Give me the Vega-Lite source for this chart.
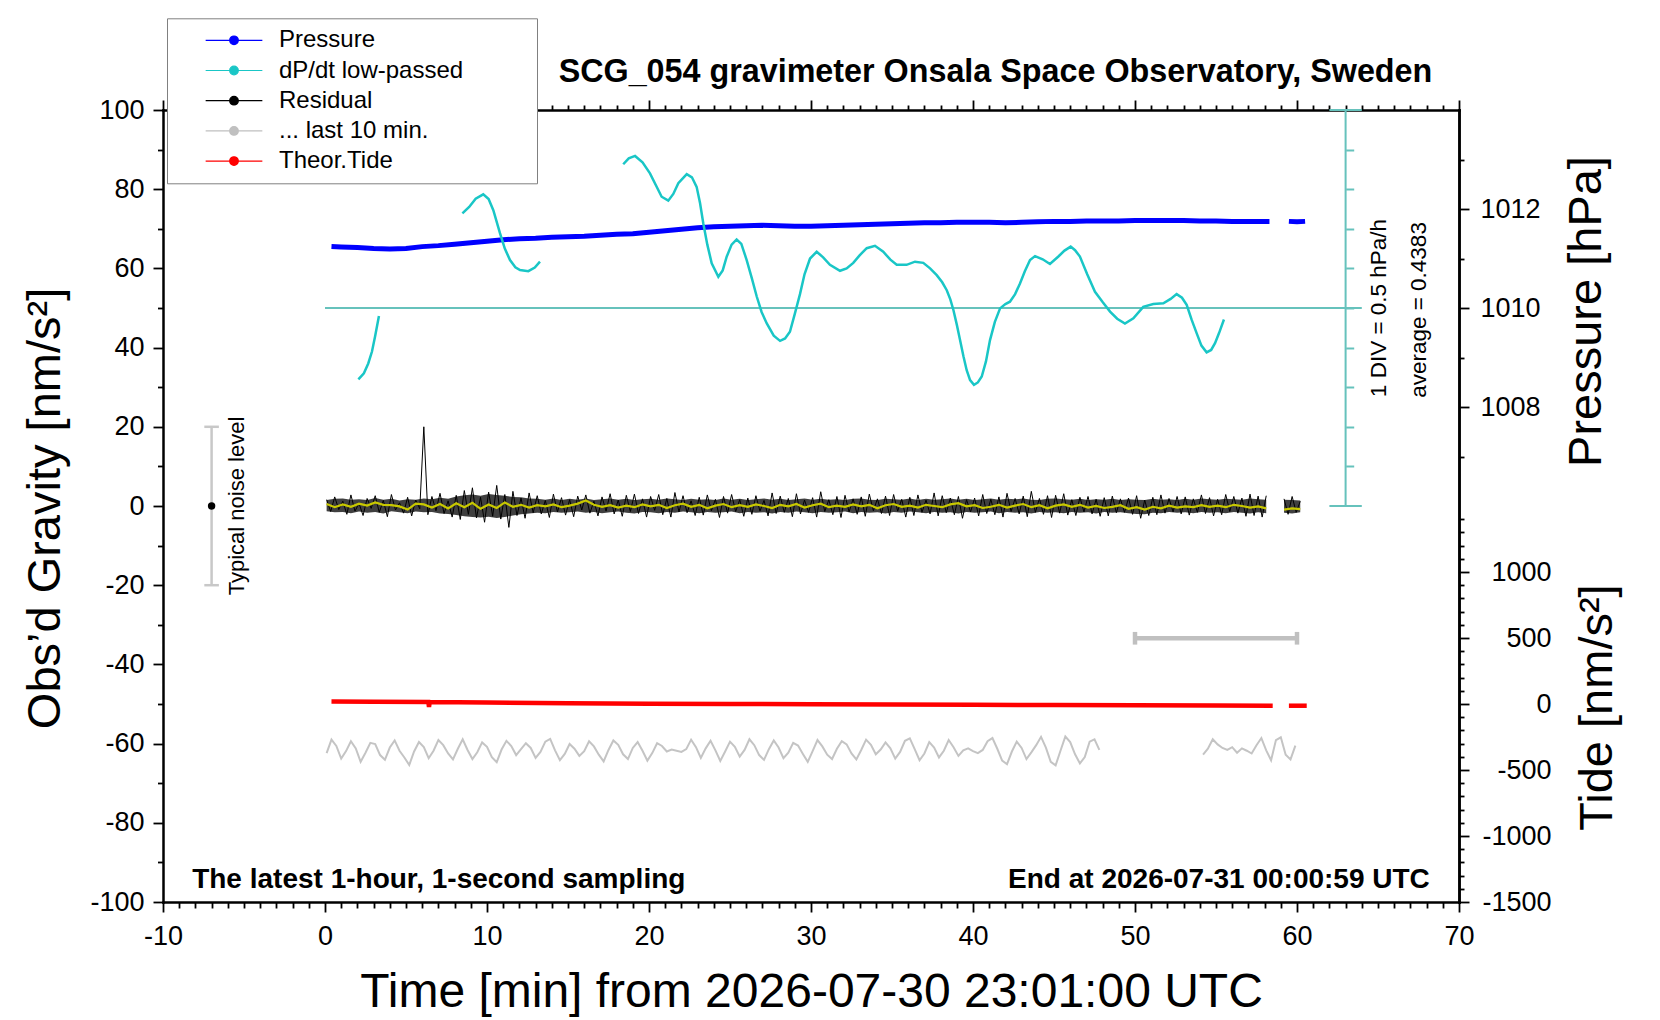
{
  "$schema": "https://vega.github.io/schema/vega-lite/v6.json",
  "width": 1296,
  "height": 792,
  "autosize": {"type": "none"},
  "padding": {"left": 163, "top": 110, "right": 201, "bottom": 118},
  "background": "white",
  "datasets": {
    "noisebar": [
      {"t": -7, "t2": -7, "g": -20, "g2": 20},
      {"t": -7.45, "t2": -6.55, "g": 20, "g2": 20},
      {"t": -7.45, "t2": -6.55, "g": -20, "g2": -20}
    ],
    "lastbar": [
      {"t": 50, "t2": 60, "g": -33.4, "g2": -33.4},
      {"t": 50, "t2": 50, "g": -35, "g2": -31.8},
      {"t": 60, "t2": 60, "g": -35, "g2": -31.8}
    ],
    "cyanframe": [
      {"t": 63, "t2": 63, "v": -2.0617, "v2": 2.9383},
      {"t": 62, "t2": 64, "v": 2.9383, "v2": 2.9383},
      {"t": 62, "t2": 64, "v": -2.0617, "v2": -2.0617},
      {"t": 0, "t2": 64, "v": 0.4383, "v2": 0.4383}
    ],
    "tide": [
      {"t": 0.4, "n": 18, "s": 1}, {"t": 3, "n": 16.5, "s": 1}, {"t": 6.38, "n": 14.5, "s": 1},
      {"t": 6.42, "n": -22, "s": 1}, {"t": 6.46, "n": 14.3, "s": 1}, {"t": 10, "n": 11, "s": 1},
      {"t": 15, "n": 6, "s": 1}, {"t": 20, "n": 2.5, "s": 1}, {"t": 25, "n": 0, "s": 1},
      {"t": 30, "n": -2, "s": 1}, {"t": 35, "n": -4, "s": 1}, {"t": 40, "n": -6, "s": 1},
      {"t": 45, "n": -8, "s": 1}, {"t": 50, "n": -10, "s": 1}, {"t": 55, "n": -12, "s": 1},
      {"t": 58.5, "n": -13, "s": 1},
      {"t": 59.5, "n": -13, "s": 2}, {"t": 60.6, "n": -13, "s": 2}
    ],
    "pressure": [
      {"t": 0.4, "p": 1011.24, "s": 1}, {"t": 1, "p": 1011.23, "s": 1}, {"t": 2, "p": 1011.22, "s": 1},
      {"t": 3, "p": 1011.2, "s": 1}, {"t": 4, "p": 1011.19, "s": 1}, {"t": 5, "p": 1011.2, "s": 1},
      {"t": 6, "p": 1011.24, "s": 1}, {"t": 7, "p": 1011.26, "s": 1}, {"t": 8, "p": 1011.29, "s": 1},
      {"t": 9, "p": 1011.32, "s": 1}, {"t": 10, "p": 1011.35, "s": 1}, {"t": 11, "p": 1011.38, "s": 1},
      {"t": 12, "p": 1011.4, "s": 1}, {"t": 13, "p": 1011.41, "s": 1}, {"t": 14, "p": 1011.43, "s": 1},
      {"t": 15, "p": 1011.44, "s": 1}, {"t": 16, "p": 1011.45, "s": 1}, {"t": 17, "p": 1011.47, "s": 1},
      {"t": 18, "p": 1011.49, "s": 1}, {"t": 19, "p": 1011.5, "s": 1}, {"t": 20, "p": 1011.53, "s": 1},
      {"t": 21, "p": 1011.56, "s": 1}, {"t": 22, "p": 1011.59, "s": 1}, {"t": 23, "p": 1011.62, "s": 1},
      {"t": 24, "p": 1011.64, "s": 1}, {"t": 25, "p": 1011.65, "s": 1}, {"t": 26, "p": 1011.66, "s": 1},
      {"t": 27, "p": 1011.67, "s": 1}, {"t": 28, "p": 1011.66, "s": 1}, {"t": 29, "p": 1011.65, "s": 1},
      {"t": 30, "p": 1011.65, "s": 1}, {"t": 31, "p": 1011.66, "s": 1}, {"t": 32, "p": 1011.67, "s": 1},
      {"t": 33, "p": 1011.68, "s": 1}, {"t": 34, "p": 1011.69, "s": 1}, {"t": 35, "p": 1011.7, "s": 1},
      {"t": 36, "p": 1011.71, "s": 1}, {"t": 37, "p": 1011.72, "s": 1}, {"t": 38, "p": 1011.72, "s": 1},
      {"t": 39, "p": 1011.73, "s": 1}, {"t": 40, "p": 1011.73, "s": 1}, {"t": 41, "p": 1011.73, "s": 1},
      {"t": 42, "p": 1011.72, "s": 1}, {"t": 43, "p": 1011.73, "s": 1}, {"t": 44, "p": 1011.74, "s": 1},
      {"t": 45, "p": 1011.75, "s": 1}, {"t": 46, "p": 1011.75, "s": 1}, {"t": 47, "p": 1011.76, "s": 1},
      {"t": 48, "p": 1011.76, "s": 1}, {"t": 49, "p": 1011.76, "s": 1}, {"t": 50, "p": 1011.77, "s": 1},
      {"t": 51, "p": 1011.77, "s": 1}, {"t": 52, "p": 1011.77, "s": 1}, {"t": 53, "p": 1011.77, "s": 1},
      {"t": 54, "p": 1011.76, "s": 1}, {"t": 55, "p": 1011.76, "s": 1}, {"t": 56, "p": 1011.75, "s": 1},
      {"t": 57, "p": 1011.75, "s": 1}, {"t": 58.3, "p": 1011.75, "s": 1},
      {"t": 59.5, "p": 1011.75, "s": 2}, {"t": 60, "p": 1011.74, "s": 2}, {"t": 60.5, "p": 1011.75, "s": 2}
    ],
    "dpdt": [
      {"t": 2.06, "v": -0.4617, "s": 1}, {"t": 2.4, "v": -0.3867, "s": 1}, {"t": 2.67, "v": -0.2617, "s": 1},
      {"t": 2.9, "v": -0.1117, "s": 1}, {"t": 3.09, "v": 0.0783, "s": 1}, {"t": 3.33, "v": 0.3383, "s": 1},
      {"t": 8.48, "v": 1.6333, "s": 2}, {"t": 8.9, "v": 1.7133, "s": 2}, {"t": 9.3, "v": 1.8183, "s": 2},
      {"t": 9.77, "v": 1.8733, "s": 2}, {"t": 10.1, "v": 1.8133, "s": 2}, {"t": 10.39, "v": 1.6733, "s": 2},
      {"t": 10.8, "v": 1.3833, "s": 2}, {"t": 11.1, "v": 1.1883, "s": 2}, {"t": 11.42, "v": 1.0433, "s": 2},
      {"t": 11.75, "v": 0.9533, "s": 2}, {"t": 12.04, "v": 0.9183, "s": 2}, {"t": 12.55, "v": 0.9033, "s": 2},
      {"t": 12.95, "v": 0.9483, "s": 2}, {"t": 13.27, "v": 1.0233, "s": 2},
      {"t": 18.41, "v": 2.2533, "s": 3}, {"t": 18.75, "v": 2.3283, "s": 3}, {"t": 19.14, "v": 2.3583, "s": 3},
      {"t": 19.6, "v": 2.2783, "s": 3}, {"t": 20.06, "v": 2.1383, "s": 3}, {"t": 20.45, "v": 1.9783, "s": 3},
      {"t": 20.78, "v": 1.8433, "s": 3}, {"t": 21.19, "v": 1.7933, "s": 3}, {"t": 21.5, "v": 1.8783, "s": 3},
      {"t": 21.81, "v": 2.0133, "s": 3}, {"t": 22.33, "v": 2.1283, "s": 3}, {"t": 22.65, "v": 2.0883, "s": 3},
      {"t": 22.94, "v": 1.9683, "s": 3}, {"t": 23.15, "v": 1.7633, "s": 3}, {"t": 23.35, "v": 1.5083, "s": 3},
      {"t": 23.6, "v": 1.2383, "s": 3}, {"t": 23.87, "v": 1.0033, "s": 3}, {"t": 24.28, "v": 0.8333, "s": 3},
      {"t": 24.55, "v": 0.9133, "s": 3}, {"t": 24.8, "v": 1.0883, "s": 3}, {"t": 25.1, "v": 1.2383, "s": 3},
      {"t": 25.41, "v": 1.3033, "s": 3}, {"t": 25.7, "v": 1.2483, "s": 3}, {"t": 26.03, "v": 1.0433, "s": 3},
      {"t": 26.35, "v": 0.8133, "s": 3}, {"t": 26.65, "v": 0.5833, "s": 3}, {"t": 26.95, "v": 0.3883, "s": 3},
      {"t": 27.27, "v": 0.2433, "s": 3}, {"t": 27.7, "v": 0.0883, "s": 3}, {"t": 28.09, "v": 0.0233, "s": 3},
      {"t": 28.4, "v": 0.0533, "s": 3}, {"t": 28.7, "v": 0.1383, "s": 3}, {"t": 29.0, "v": 0.3633, "s": 3},
      {"t": 29.32, "v": 0.6133, "s": 3}, {"t": 29.6, "v": 0.8633, "s": 3}, {"t": 29.94, "v": 1.0633, "s": 3},
      {"t": 30.35, "v": 1.1483, "s": 3}, {"t": 30.75, "v": 1.0783, "s": 3}, {"t": 31.17, "v": 0.9833, "s": 3},
      {"t": 31.79, "v": 0.9083, "s": 3}, {"t": 32.2, "v": 0.9383, "s": 3}, {"t": 32.61, "v": 1.0083, "s": 3},
      {"t": 33.0, "v": 1.1033, "s": 3}, {"t": 33.44, "v": 1.1933, "s": 3}, {"t": 33.95, "v": 1.2233, "s": 3},
      {"t": 34.46, "v": 1.1483, "s": 3}, {"t": 34.9, "v": 1.0483, "s": 3}, {"t": 35.29, "v": 0.9833, "s": 3},
      {"t": 35.9, "v": 0.9833, "s": 3}, {"t": 36.42, "v": 1.0233, "s": 3}, {"t": 36.93, "v": 1.0083, "s": 3},
      {"t": 37.35, "v": 0.9383, "s": 3}, {"t": 37.76, "v": 0.8533, "s": 3}, {"t": 38.1, "v": 0.7633, "s": 3},
      {"t": 38.38, "v": 0.6633, "s": 3}, {"t": 38.6, "v": 0.5483, "s": 3}, {"t": 38.79, "v": 0.4133, "s": 3},
      {"t": 39.0, "v": 0.2283, "s": 3}, {"t": 39.2, "v": 0.0333, "s": 3}, {"t": 39.41, "v": -0.1717, "s": 3},
      {"t": 39.61, "v": -0.3467, "s": 3}, {"t": 39.82, "v": -0.4717, "s": 3}, {"t": 40.06, "v": -0.5317, "s": 3},
      {"t": 40.3, "v": -0.5017, "s": 3}, {"t": 40.54, "v": -0.4267, "s": 3}, {"t": 40.8, "v": -0.2367, "s": 3},
      {"t": 41.05, "v": 0.0333, "s": 3}, {"t": 41.35, "v": 0.2633, "s": 3}, {"t": 41.67, "v": 0.4333, "s": 3},
      {"t": 42.0, "v": 0.4883, "s": 3}, {"t": 42.28, "v": 0.5183, "s": 3}, {"t": 42.6, "v": 0.6133, "s": 3},
      {"t": 42.9, "v": 0.7483, "s": 3}, {"t": 43.2, "v": 0.9033, "s": 3}, {"t": 43.52, "v": 1.0433, "s": 3},
      {"t": 43.83, "v": 1.0933, "s": 3}, {"t": 44.3, "v": 1.0533, "s": 3}, {"t": 44.75, "v": 0.9933, "s": 3},
      {"t": 45.27, "v": 1.0883, "s": 3}, {"t": 45.65, "v": 1.1633, "s": 3}, {"t": 46.03, "v": 1.2133, "s": 3},
      {"t": 46.3, "v": 1.1683, "s": 3}, {"t": 46.6, "v": 1.0883, "s": 3}, {"t": 47.05, "v": 0.8633, "s": 3},
      {"t": 47.53, "v": 0.6433, "s": 3}, {"t": 48.0, "v": 0.5133, "s": 3}, {"t": 48.46, "v": 0.3933, "s": 3},
      {"t": 48.9, "v": 0.3033, "s": 3}, {"t": 49.38, "v": 0.2433, "s": 3}, {"t": 49.9, "v": 0.3083, "s": 3},
      {"t": 50.51, "v": 0.4533, "s": 3}, {"t": 51.13, "v": 0.4883, "s": 3}, {"t": 51.75, "v": 0.4983, "s": 3},
      {"t": 52.2, "v": 0.5533, "s": 3}, {"t": 52.57, "v": 0.6133, "s": 3}, {"t": 52.9, "v": 0.5683, "s": 3},
      {"t": 53.19, "v": 0.4783, "s": 3}, {"t": 53.5, "v": 0.2883, "s": 3}, {"t": 53.81, "v": 0.1183, "s": 3},
      {"t": 54.1, "v": -0.0367, "s": 3}, {"t": 54.42, "v": -0.1217, "s": 3}, {"t": 54.7, "v": -0.0917, "s": 3},
      {"t": 54.94, "v": -0.0067, "s": 3}, {"t": 55.2, "v": 0.1283, "s": 3}, {"t": 55.49, "v": 0.2933, "s": 3}
    ],
    "envelope": [
      {"t":0.1,"lo":-1.3,"hi":1.5,"s":1},{"t":0.6,"lo":-1.6,"hi":1.8,"s":1},{"t":1.1,"lo":-1.5,"hi":1.9,"s":1},{"t":1.6,"lo":-1.8,"hi":1.6,"s":1},
      {"t":2.1,"lo":-1.4,"hi":1.7,"s":1},{"t":2.6,"lo":-1.7,"hi":1.5,"s":1},{"t":3.1,"lo":-1.5,"hi":2.0,"s":1},{"t":3.6,"lo":-1.9,"hi":1.6,"s":1},
      {"t":4.1,"lo":-1.3,"hi":1.8,"s":1},{"t":4.6,"lo":-1.6,"hi":1.4,"s":1},{"t":5.1,"lo":-1.8,"hi":1.7,"s":1},{"t":5.6,"lo":-1.4,"hi":1.6,"s":1},
      {"t":6.1,"lo":-1.6,"hi":1.9,"s":1},{"t":6.6,"lo":-1.5,"hi":1.7,"s":1},{"t":7.1,"lo":-1.9,"hi":2.1,"s":1},{"t":7.6,"lo":-2.0,"hi":1.8,"s":1},
      {"t":8.1,"lo":-2.3,"hi":2.4,"s":1},{"t":8.6,"lo":-2.6,"hi":2.7,"s":1},{"t":9.1,"lo":-2.8,"hi":2.9,"s":1},{"t":9.6,"lo":-2.9,"hi":2.6,"s":1},
      {"t":10.1,"lo":-2.7,"hi":3.0,"s":1},{"t":10.6,"lo":-3.0,"hi":2.8,"s":1},{"t":11.1,"lo":-2.8,"hi":2.6,"s":1},{"t":11.6,"lo":-2.4,"hi":2.3,"s":1},
      {"t":12.1,"lo":-2.1,"hi":2.2,"s":1},{"t":12.6,"lo":-1.9,"hi":1.9,"s":1},{"t":13.1,"lo":-1.7,"hi":1.8,"s":1},{"t":13.6,"lo":-1.8,"hi":1.6,"s":1},
      {"t":14.1,"lo":-1.5,"hi":1.9,"s":1},{"t":14.6,"lo":-1.7,"hi":1.5,"s":1},{"t":15.1,"lo":-1.6,"hi":1.8,"s":1},{"t":15.6,"lo":-1.4,"hi":1.6,"s":1},
      {"t":16.1,"lo":-1.7,"hi":1.9,"s":1},{"t":16.6,"lo":-1.5,"hi":1.5,"s":1},{"t":17.1,"lo":-1.8,"hi":1.7,"s":1},{"t":17.6,"lo":-1.6,"hi":1.9,"s":1},
      {"t":18.1,"lo":-1.4,"hi":1.6,"s":1},{"t":18.6,"lo":-1.7,"hi":1.8,"s":1},{"t":19.1,"lo":-1.9,"hi":1.5,"s":1},{"t":19.6,"lo":-1.5,"hi":1.7,"s":1},
      {"t":20.1,"lo":-1.6,"hi":1.8,"s":1},{"t":20.6,"lo":-1.8,"hi":1.6,"s":1},{"t":21.1,"lo":-1.5,"hi":1.9,"s":1},{"t":21.6,"lo":-1.7,"hi":1.7,"s":1},
      {"t":22.1,"lo":-1.4,"hi":1.5,"s":1},{"t":22.6,"lo":-1.6,"hi":1.8,"s":1},{"t":23.1,"lo":-1.8,"hi":1.6,"s":1},{"t":23.6,"lo":-1.5,"hi":1.7,"s":1},
      {"t":24.1,"lo":-1.7,"hi":1.5,"s":1},{"t":24.6,"lo":-1.6,"hi":1.9,"s":1},{"t":25.1,"lo":-1.4,"hi":1.6,"s":1},{"t":25.6,"lo":-1.8,"hi":1.8,"s":1},
      {"t":26.1,"lo":-1.5,"hi":1.5,"s":1},{"t":26.6,"lo":-1.7,"hi":1.7,"s":1},{"t":27.1,"lo":-1.6,"hi":1.9,"s":1},{"t":27.6,"lo":-1.9,"hi":1.6,"s":1},
      {"t":28.1,"lo":-1.5,"hi":1.8,"s":1},{"t":28.6,"lo":-1.7,"hi":1.5,"s":1},{"t":29.1,"lo":-1.4,"hi":1.7,"s":1},{"t":29.6,"lo":-1.6,"hi":1.9,"s":1},
      {"t":30.1,"lo":-1.8,"hi":1.6,"s":1},{"t":30.6,"lo":-1.5,"hi":1.8,"s":1},{"t":31.1,"lo":-1.7,"hi":1.6,"s":1},{"t":31.6,"lo":-1.6,"hi":1.7,"s":1},
      {"t":32.1,"lo":-1.4,"hi":1.5,"s":1},{"t":32.6,"lo":-1.8,"hi":1.8,"s":1},{"t":33.1,"lo":-1.5,"hi":1.9,"s":1},{"t":33.6,"lo":-1.7,"hi":1.6,"s":1},
      {"t":34.1,"lo":-1.6,"hi":1.5,"s":1},{"t":34.6,"lo":-1.9,"hi":1.8,"s":1},{"t":35.1,"lo":-1.5,"hi":1.7,"s":1},{"t":35.6,"lo":-1.7,"hi":1.6,"s":1},
      {"t":36.1,"lo":-1.4,"hi":1.9,"s":1},{"t":36.6,"lo":-1.6,"hi":1.5,"s":1},{"t":37.1,"lo":-1.8,"hi":1.8,"s":1},{"t":37.6,"lo":-1.5,"hi":1.6,"s":1},
      {"t":38.1,"lo":-1.7,"hi":1.7,"s":1},{"t":38.6,"lo":-1.6,"hi":1.9,"s":1},{"t":39.1,"lo":-1.9,"hi":1.6,"s":1},{"t":39.6,"lo":-1.5,"hi":1.8,"s":1},
      {"t":40.1,"lo":-1.7,"hi":1.5,"s":1},{"t":40.6,"lo":-1.6,"hi":1.7,"s":1},{"t":41.1,"lo":-1.4,"hi":1.9,"s":1},{"t":41.6,"lo":-1.8,"hi":1.6,"s":1},
      {"t":42.1,"lo":-1.5,"hi":1.8,"s":1},{"t":42.6,"lo":-1.7,"hi":1.7,"s":1},{"t":43.1,"lo":-1.6,"hi":1.9,"s":1},{"t":43.6,"lo":-1.9,"hi":1.6,"s":1},
      {"t":44.1,"lo":-1.5,"hi":1.5,"s":1},{"t":44.6,"lo":-1.7,"hi":1.8,"s":1},{"t":45.1,"lo":-1.6,"hi":1.9,"s":1},{"t":45.6,"lo":-1.8,"hi":1.7,"s":1},
      {"t":46.1,"lo":-1.5,"hi":1.6,"s":1},{"t":46.6,"lo":-1.7,"hi":1.8,"s":1},{"t":47.1,"lo":-1.6,"hi":1.5,"s":1},{"t":47.6,"lo":-1.9,"hi":1.7,"s":1},
      {"t":48.1,"lo":-1.5,"hi":1.6,"s":1},{"t":48.6,"lo":-1.7,"hi":1.8,"s":1},{"t":49.1,"lo":-1.6,"hi":1.5,"s":1},{"t":49.6,"lo":-1.8,"hi":1.7,"s":1},
      {"t":50.1,"lo":-2.0,"hi":1.6,"s":1},{"t":50.6,"lo":-2.1,"hi":1.5,"s":1},{"t":51.1,"lo":-1.7,"hi":1.8,"s":1},{"t":51.6,"lo":-1.8,"hi":1.6,"s":1},
      {"t":52.1,"lo":-1.5,"hi":1.7,"s":1},{"t":52.6,"lo":-1.7,"hi":1.5,"s":1},{"t":53.1,"lo":-1.6,"hi":1.8,"s":1},{"t":53.6,"lo":-1.8,"hi":1.6,"s":1},
      {"t":54.1,"lo":-1.5,"hi":1.9,"s":1},{"t":54.6,"lo":-1.7,"hi":1.7,"s":1},{"t":55.1,"lo":-1.6,"hi":1.6,"s":1},{"t":55.6,"lo":-1.8,"hi":1.8,"s":1},
      {"t":56.1,"lo":-1.5,"hi":1.7,"s":1},{"t":56.6,"lo":-1.7,"hi":1.6,"s":1},{"t":57.1,"lo":-1.9,"hi":1.9,"s":1},{"t":57.6,"lo":-1.6,"hi":1.7,"s":1},
      {"t":58.1,"lo":-1.8,"hi":1.6,"s":1},
      {"t":59.2,"lo":-1.7,"hi":1.6,"s":2},{"t":59.7,"lo":-1.9,"hi":1.5,"s":2},{"t":60.2,"lo":-1.6,"hi":1.4,"s":2}
    ],
    "residual": [
      {"t":0.1,"g":1.6,"s":1},{"t":0.35,"g":-1.4,"s":1},{"t":0.6,"g":2.3,"s":1},{"t":0.85,"g":-0.9,"s":1},
      {"t":1.1,"g":1.2,"s":1},{"t":1.35,"g":-2.1,"s":1},{"t":1.6,"g":2.8,"s":1},{"t":1.85,"g":-1.3,"s":1},
      {"t":2.1,"g":0.7,"s":1},{"t":2.35,"g":-2.4,"s":1},{"t":2.6,"g":1.9,"s":1},{"t":2.85,"g":-0.6,"s":1},
      {"t":3.1,"g":2.6,"s":1},{"t":3.35,"g":-1.6,"s":1},{"t":3.6,"g":1.4,"s":1},{"t":3.85,"g":-2.7,"s":1},
      {"t":4.1,"g":2.9,"s":1},{"t":4.35,"g":-1.0,"s":1},{"t":4.6,"g":0.8,"s":1},{"t":4.85,"g":-1.8,"s":1},
      {"t":5.1,"g":2.2,"s":1},{"t":5.35,"g":-2.5,"s":1},{"t":5.6,"g":1.5,"s":1},{"t":5.85,"g":-0.7,"s":1},
      {"t":6.1,"g":20,"s":1},{"t":6.35,"g":-2.2,"s":1},{"t":6.6,"g":2.4,"s":1},{"t":6.85,"g":-1.2,"s":1},
      {"t":7.1,"g":3.2,"s":1},{"t":7.35,"g":-1.9,"s":1},{"t":7.6,"g":1.3,"s":1},{"t":7.85,"g":-2.8,"s":1},
      {"t":8.1,"g":2.7,"s":1},{"t":8.35,"g":-3.4,"s":1},{"t":8.6,"g":3.9,"s":1},{"t":8.85,"g":-2.1,"s":1},
      {"t":9.1,"g":4.6,"s":1},{"t":9.35,"g":-3.0,"s":1},{"t":9.6,"g":2.2,"s":1},{"t":9.85,"g":-4.1,"s":1},
      {"t":10.1,"g":3.5,"s":1},{"t":10.35,"g":-2.6,"s":1},{"t":10.6,"g":5.2,"s":1},{"t":10.85,"g":-3.3,"s":1},
      {"t":11.1,"g":2.9,"s":1},{"t":11.35,"g":-5.4,"s":1},{"t":11.6,"g":3.7,"s":1},{"t":11.85,"g":-2.4,"s":1},
      {"t":12.1,"g":2.0,"s":1},{"t":12.35,"g":-3.1,"s":1},{"t":12.6,"g":3.3,"s":1},{"t":12.85,"g":-1.7,"s":1},
      {"t":13.1,"g":2.6,"s":1},{"t":13.35,"g":-2.0,"s":1},{"t":13.6,"g":1.4,"s":1},{"t":13.85,"g":-2.9,"s":1},
      {"t":14.1,"g":3.0,"s":1},{"t":14.35,"g":-1.5,"s":1},{"t":14.6,"g":2.1,"s":1},{"t":14.85,"g":-2.3,"s":1},
      {"t":15.1,"g":1.6,"s":1},{"t":15.35,"g":-2.7,"s":1},{"t":15.6,"g":2.5,"s":1},{"t":15.85,"g":-1.0,"s":1},
      {"t":16.1,"g":2.8,"s":1},{"t":16.35,"g":-1.8,"s":1},{"t":16.6,"g":1.2,"s":1},{"t":16.85,"g":-2.5,"s":1},
      {"t":17.1,"g":2.3,"s":1},{"t":17.35,"g":-1.3,"s":1},{"t":17.6,"g":3.1,"s":1},{"t":17.85,"g":-2.0,"s":1},
      {"t":18.1,"g":1.5,"s":1},{"t":18.35,"g":-2.6,"s":1},{"t":18.6,"g":2.7,"s":1},{"t":18.85,"g":-1.4,"s":1},
      {"t":19.1,"g":3.0,"s":1},{"t":19.35,"g":-1.9,"s":1},{"t":19.6,"g":1.8,"s":1},{"t":19.85,"g":-2.8,"s":1},
      {"t":20.1,"g":2.4,"s":1},{"t":20.35,"g":-1.1,"s":1},{"t":20.6,"g":2.9,"s":1},{"t":20.85,"g":-2.2,"s":1},
      {"t":21.1,"g":1.9,"s":1},{"t":21.35,"g":-2.8,"s":1},{"t":21.6,"g":3.4,"s":1},{"t":21.85,"g":-1.5,"s":1},
      {"t":22.1,"g":2.6,"s":1},{"t":22.35,"g":-1.7,"s":1},{"t":22.6,"g":1.3,"s":1},{"t":22.85,"g":-2.4,"s":1},
      {"t":23.1,"g":2.2,"s":1},{"t":23.35,"g":-2.3,"s":1},{"t":23.6,"g":2.8,"s":1},{"t":23.85,"g":-1.2,"s":1},
      {"t":24.1,"g":1.7,"s":1},{"t":24.35,"g":-2.9,"s":1},{"t":24.6,"g":2.4,"s":1},{"t":24.85,"g":-1.8,"s":1},
      {"t":25.1,"g":2.9,"s":1},{"t":25.35,"g":-1.4,"s":1},{"t":25.6,"g":1.6,"s":1},{"t":25.85,"g":-2.6,"s":1},
      {"t":26.1,"g":2.0,"s":1},{"t":26.35,"g":-2.1,"s":1},{"t":26.6,"g":2.6,"s":1},{"t":26.85,"g":-1.3,"s":1},
      {"t":27.1,"g":1.4,"s":1},{"t":27.35,"g":-2.5,"s":1},{"t":27.6,"g":3.3,"s":1},{"t":27.85,"g":-1.9,"s":1},
      {"t":28.1,"g":2.5,"s":1},{"t":28.35,"g":-1.6,"s":1},{"t":28.6,"g":1.9,"s":1},{"t":28.85,"g":-2.7,"s":1},
      {"t":29.1,"g":3.1,"s":1},{"t":29.35,"g":-2.0,"s":1},{"t":29.6,"g":1.5,"s":1},{"t":29.85,"g":-1.6,"s":1},
      {"t":30.1,"g":2.1,"s":1},{"t":30.35,"g":-2.8,"s":1},{"t":30.6,"g":3.6,"s":1},{"t":30.85,"g":-1.4,"s":1},
      {"t":31.1,"g":1.6,"s":1},{"t":31.35,"g":-2.2,"s":1},{"t":31.6,"g":2.4,"s":1},{"t":31.85,"g":-2.9,"s":1},
      {"t":32.1,"g":2.7,"s":1},{"t":32.35,"g":-1.5,"s":1},{"t":32.6,"g":1.8,"s":1},{"t":32.85,"g":-2.1,"s":1},
      {"t":33.1,"g":2.3,"s":1},{"t":33.35,"g":-2.6,"s":1},{"t":33.6,"g":3.0,"s":1},{"t":33.85,"g":-1.2,"s":1},
      {"t":34.1,"g":1.8,"s":1},{"t":34.35,"g":-1.9,"s":1},{"t":34.6,"g":2.5,"s":1},{"t":34.85,"g":-2.4,"s":1},
      {"t":35.1,"g":2.9,"s":1},{"t":35.35,"g":-1.3,"s":1},{"t":35.6,"g":1.7,"s":1},{"t":35.85,"g":-2.8,"s":1},
      {"t":36.1,"g":2.2,"s":1},{"t":36.35,"g":-2.4,"s":1},{"t":36.6,"g":2.8,"s":1},{"t":36.85,"g":-1.6,"s":1},
      {"t":37.1,"g":1.5,"s":1},{"t":37.35,"g":-2.0,"s":1},{"t":37.6,"g":3.3,"s":1},{"t":37.85,"g":-2.5,"s":1},
      {"t":38.1,"g":2.6,"s":1},{"t":38.35,"g":-1.7,"s":1},{"t":38.6,"g":2.0,"s":1},{"t":38.85,"g":-2.2,"s":1},
      {"t":39.1,"g":2.4,"s":1},{"t":39.35,"g":-3.1,"s":1},{"t":39.6,"g":1.6,"s":1},{"t":39.85,"g":-1.5,"s":1},
      {"t":40.1,"g":2.0,"s":1},{"t":40.35,"g":-2.5,"s":1},{"t":40.6,"g":2.9,"s":1},{"t":40.85,"g":-1.9,"s":1},
      {"t":41.1,"g":1.7,"s":1},{"t":41.35,"g":-2.2,"s":1},{"t":41.6,"g":2.3,"s":1},{"t":41.85,"g":-2.8,"s":1},
      {"t":42.1,"g":3.2,"s":1},{"t":42.35,"g":-1.4,"s":1},{"t":42.6,"g":1.9,"s":1},{"t":42.85,"g":-2.0,"s":1},
      {"t":43.1,"g":2.5,"s":1},{"t":43.35,"g":-2.7,"s":1},{"t":43.6,"g":3.7,"s":1},{"t":43.85,"g":-1.6,"s":1},
      {"t":44.1,"g":1.9,"s":1},{"t":44.35,"g":-2.1,"s":1},{"t":44.6,"g":2.6,"s":1},{"t":44.85,"g":-2.9,"s":1},
      {"t":45.1,"g":2.7,"s":1},{"t":45.35,"g":-1.8,"s":1},{"t":45.6,"g":3.1,"s":1},{"t":45.85,"g":-2.3,"s":1},
      {"t":46.1,"g":1.6,"s":1},{"t":46.35,"g":-2.4,"s":1},{"t":46.6,"g":2.2,"s":1},{"t":46.85,"g":-1.5,"s":1},
      {"t":47.1,"g":2.4,"s":1},{"t":47.35,"g":-2.0,"s":1},{"t":47.6,"g":1.7,"s":1},{"t":47.85,"g":-2.6,"s":1},
      {"t":48.1,"g":2.1,"s":1},{"t":48.35,"g":-2.5,"s":1},{"t":48.6,"g":2.5,"s":1},{"t":48.85,"g":-1.7,"s":1},
      {"t":49.1,"g":1.8,"s":1},{"t":49.35,"g":-1.6,"s":1},{"t":49.6,"g":2.0,"s":1},{"t":49.85,"g":-2.1,"s":1},
      {"t":50.1,"g":2.6,"s":1},{"t":50.35,"g":-3.1,"s":1},{"t":50.6,"g":1.5,"s":1},{"t":50.85,"g":-2.4,"s":1},
      {"t":51.1,"g":2.2,"s":1},{"t":51.35,"g":-2.2,"s":1},{"t":51.6,"g":2.8,"s":1},{"t":51.85,"g":-1.8,"s":1},
      {"t":52.1,"g":1.9,"s":1},{"t":52.35,"g":-1.5,"s":1},{"t":52.6,"g":2.4,"s":1},{"t":52.85,"g":-2.0,"s":1},
      {"t":53.1,"g":2.3,"s":1},{"t":53.35,"g":-2.3,"s":1},{"t":53.6,"g":1.8,"s":1},{"t":53.85,"g":-1.6,"s":1},
      {"t":54.1,"g":2.8,"s":1},{"t":54.35,"g":-1.9,"s":1},{"t":54.6,"g":2.1,"s":1},{"t":54.85,"g":-2.5,"s":1},
      {"t":55.1,"g":1.7,"s":1},{"t":55.35,"g":-2.2,"s":1},{"t":55.6,"g":2.9,"s":1},{"t":55.85,"g":-1.4,"s":1},
      {"t":56.1,"g":2.4,"s":1},{"t":56.35,"g":-1.8,"s":1},{"t":56.6,"g":2.0,"s":1},{"t":56.85,"g":-2.6,"s":1},
      {"t":57.1,"g":3.0,"s":1},{"t":57.35,"g":-2.4,"s":1},{"t":57.6,"g":2.5,"s":1},{"t":57.85,"g":-2.8,"s":1},
      {"t":58.1,"g":2.6,"s":1},
      {"t":59.2,"g":1.8,"s":2},{"t":59.45,"g":-2.1,"s":2},{"t":59.7,"g":2.4,"s":2},{"t":59.95,"g":-1.6,"s":2},{"t":60.2,"g":1.2,"s":2}
    ],
    "smooth": [
      {"t":0.1,"g":0.5,"s":1},{"t":0.6,"g":-0.3,"s":1},{"t":1.1,"g":0.4,"s":1},{"t":1.6,"g":-0.2,"s":1},
      {"t":2.1,"g":0.6,"s":1},{"t":2.6,"g":0.1,"s":1},{"t":3.1,"g":0.9,"s":1},{"t":3.6,"g":0.3,"s":1},
      {"t":4.1,"g":0.2,"s":1},{"t":4.6,"g":-0.1,"s":1},{"t":5.1,"g":-0.9,"s":1},{"t":5.6,"g":0.6,"s":1},
      {"t":6.1,"g":0.4,"s":1},{"t":6.6,"g":-0.4,"s":1},{"t":7.1,"g":0.5,"s":1},{"t":7.6,"g":-0.6,"s":1},
      {"t":8.1,"g":0.7,"s":1},{"t":8.6,"g":-0.3,"s":1},{"t":9.1,"g":0.8,"s":1},{"t":9.6,"g":-0.7,"s":1},
      {"t":10.1,"g":0.4,"s":1},{"t":10.6,"g":-0.5,"s":1},{"t":11.1,"g":0.9,"s":1},{"t":11.6,"g":-0.2,"s":1},
      {"t":12.1,"g":0.3,"s":1},{"t":12.6,"g":-0.4,"s":1},{"t":13.1,"g":0.2,"s":1},{"t":13.6,"g":-0.1,"s":1},
      {"t":14.1,"g":0.4,"s":1},{"t":14.6,"g":-0.3,"s":1},{"t":15.1,"g":0.1,"s":1},{"t":15.6,"g":0.6,"s":1},
      {"t":16.1,"g":1.4,"s":1},{"t":16.6,"g":0.3,"s":1},{"t":17.1,"g":-0.2,"s":1},{"t":17.6,"g":0.2,"s":1},
      {"t":18.1,"g":-0.4,"s":1},{"t":18.6,"g":0.1,"s":1},{"t":19.1,"g":-0.3,"s":1},{"t":19.6,"g":0.4,"s":1},
      {"t":20.1,"g":-0.1,"s":1},{"t":20.6,"g":0.3,"s":1},{"t":21.1,"g":-0.5,"s":1},{"t":21.6,"g":0.2,"s":1},
      {"t":22.1,"g":0.6,"s":1},{"t":22.6,"g":-0.2,"s":1},{"t":23.1,"g":0.3,"s":1},{"t":23.6,"g":-0.6,"s":1},
      {"t":24.1,"g":0.1,"s":1},{"t":24.6,"g":0.5,"s":1},{"t":25.1,"g":-0.3,"s":1},{"t":25.6,"g":0.2,"s":1},
      {"t":26.1,"g":-0.2,"s":1},{"t":26.6,"g":0.4,"s":1},{"t":27.1,"g":0.0,"s":1},{"t":27.6,"g":-0.5,"s":1},
      {"t":28.1,"g":0.3,"s":1},{"t":28.6,"g":-0.1,"s":1},{"t":29.1,"g":0.5,"s":1},{"t":29.6,"g":-0.4,"s":1},
      {"t":30.1,"g":0.2,"s":1},{"t":30.6,"g":0.6,"s":1},{"t":31.1,"g":-0.3,"s":1},{"t":31.6,"g":0.1,"s":1},
      {"t":32.1,"g":-0.2,"s":1},{"t":32.6,"g":0.4,"s":1},{"t":33.1,"g":-0.1,"s":1},{"t":33.6,"g":0.3,"s":1},
      {"t":34.1,"g":-0.6,"s":1},{"t":34.6,"g":0.2,"s":1},{"t":35.1,"g":0.5,"s":1},{"t":35.6,"g":-0.2,"s":1},
      {"t":36.1,"g":0.1,"s":1},{"t":36.6,"g":-0.4,"s":1},{"t":37.1,"g":0.3,"s":1},{"t":37.6,"g":0.0,"s":1},
      {"t":38.1,"g":-0.3,"s":1},{"t":38.6,"g":0.4,"s":1},{"t":39.1,"g":0.7,"s":1},{"t":39.6,"g":-0.1,"s":1},
      {"t":40.1,"g":0.2,"s":1},{"t":40.6,"g":-0.5,"s":1},{"t":41.1,"g":-0.2,"s":1},{"t":41.6,"g":0.3,"s":1},
      {"t":42.1,"g":-0.4,"s":1},{"t":42.6,"g":0.1,"s":1},{"t":43.1,"g":0.5,"s":1},{"t":43.6,"g":-0.3,"s":1},
      {"t":44.1,"g":0.2,"s":1},{"t":44.6,"g":-0.6,"s":1},{"t":45.1,"g":0.1,"s":1},{"t":45.6,"g":0.4,"s":1},
      {"t":46.1,"g":-0.2,"s":1},{"t":46.6,"g":0.3,"s":1},{"t":47.1,"g":-0.4,"s":1},{"t":47.6,"g":0.0,"s":1},
      {"t":48.1,"g":-0.5,"s":1},{"t":48.6,"g":-0.2,"s":1},{"t":49.1,"g":0.2,"s":1},{"t":49.6,"g":-0.7,"s":1},
      {"t":50.1,"g":-0.3,"s":1},{"t":50.6,"g":-0.9,"s":1},{"t":51.1,"g":-0.2,"s":1},{"t":51.6,"g":-0.6,"s":1},
      {"t":52.1,"g":0.1,"s":1},{"t":52.6,"g":-0.4,"s":1},{"t":53.1,"g":-0.1,"s":1},{"t":53.6,"g":-0.3,"s":1},
      {"t":54.1,"g":0.2,"s":1},{"t":54.6,"g":-0.2,"s":1},{"t":55.1,"g":0.1,"s":1},{"t":55.6,"g":-0.3,"s":1},
      {"t":56.1,"g":0.3,"s":1},{"t":56.6,"g":0.0,"s":1},{"t":57.1,"g":-0.4,"s":1},{"t":57.6,"g":-0.1,"s":1},
      {"t":58.1,"g":-0.6,"s":1},
      {"t":59.2,"g":-0.9,"s":2},{"t":59.7,"g":-0.6,"s":2},{"t":60.2,"g":-0.8,"s":2}
    ],
    "wave": [
      {"t":0.1,"g":-62.4,"s":1},{"t":0.4,"g":-59.0,"s":1},{"t":0.7,"g":-60.6,"s":1},{"t":1.0,"g":-63.8,"s":1},{"t":1.3,"g":-61.9,"s":1},
      {"t":1.6,"g":-59.4,"s":1},{"t":1.9,"g":-61.2,"s":1},{"t":2.2,"g":-64.6,"s":1},{"t":2.5,"g":-62.3,"s":1},{"t":2.8,"g":-59.8,"s":1},
      {"t":3.1,"g":-60.1,"s":1},{"t":3.4,"g":-62.9,"s":1},{"t":3.7,"g":-64.1,"s":1},{"t":4.0,"g":-61.0,"s":1},{"t":4.3,"g":-59.2,"s":1},
      {"t":4.6,"g":-61.8,"s":1},{"t":4.9,"g":-63.5,"s":1},{"t":5.2,"g":-65.4,"s":1},{"t":5.5,"g":-62.0,"s":1},{"t":5.8,"g":-59.6,"s":1},
      {"t":6.1,"g":-60.9,"s":1},{"t":6.4,"g":-63.7,"s":1},{"t":6.7,"g":-61.8,"s":1},{"t":7.0,"g":-59.1,"s":1},{"t":7.3,"g":-60.4,"s":1},
      {"t":7.6,"g":-62.5,"s":1},{"t":7.9,"g":-64.0,"s":1},{"t":8.2,"g":-61.3,"s":1},{"t":8.5,"g":-58.9,"s":1},{"t":8.8,"g":-61.6,"s":1},
      {"t":9.1,"g":-63.9,"s":1},{"t":9.4,"g":-62.2,"s":1},{"t":9.7,"g":-59.7,"s":1},{"t":10.0,"g":-60.8,"s":1},{"t":10.3,"g":-63.4,"s":1},
      {"t":10.6,"g":-64.7,"s":1},{"t":10.9,"g":-61.5,"s":1},{"t":11.2,"g":-59.3,"s":1},{"t":11.5,"g":-60.6,"s":1},{"t":11.8,"g":-62.9,"s":1},
      {"t":12.1,"g":-61.4,"s":1},{"t":12.4,"g":-59.9,"s":1},{"t":12.7,"g":-61.1,"s":1},{"t":13.0,"g":-63.6,"s":1},{"t":13.3,"g":-62.1,"s":1},
      {"t":13.6,"g":-59.5,"s":1},{"t":13.9,"g":-58.8,"s":1},{"t":14.2,"g":-61.7,"s":1},{"t":14.5,"g":-64.2,"s":1},{"t":14.8,"g":-62.6,"s":1},
      {"t":15.1,"g":-60.1,"s":1},{"t":15.4,"g":-61.3,"s":1},{"t":15.7,"g":-63.1,"s":1},{"t":16.0,"g":-61.9,"s":1},{"t":16.3,"g":-59.4,"s":1},
      {"t":16.6,"g":-60.7,"s":1},{"t":16.9,"g":-62.8,"s":1},{"t":17.2,"g":-64.5,"s":1},{"t":17.5,"g":-61.6,"s":1},{"t":17.8,"g":-59.2,"s":1},
      {"t":18.1,"g":-60.3,"s":1},{"t":18.4,"g":-62.7,"s":1},{"t":18.7,"g":-63.9,"s":1},{"t":19.0,"g":-61.1,"s":1},{"t":19.3,"g":-59.6,"s":1},
      {"t":19.6,"g":-61.8,"s":1},{"t":19.9,"g":-64.3,"s":1},{"t":20.2,"g":-62.4,"s":1},{"t":20.5,"g":-59.9,"s":1},{"t":20.8,"g":-60.6,"s":1},
      {"t":21.1,"g":-62.0,"s":1},{"t":21.4,"g":-61.5,"s":1},{"t":21.7,"g":-61.8,"s":1},{"t":22.0,"g":-62.1,"s":1},{"t":22.3,"g":-61.4,"s":1},
      {"t":22.6,"g":-59.0,"s":1},{"t":22.9,"g":-60.9,"s":1},{"t":23.2,"g":-63.6,"s":1},{"t":23.5,"g":-61.2,"s":1},{"t":23.8,"g":-59.3,"s":1},
      {"t":24.1,"g":-61.7,"s":1},{"t":24.4,"g":-64.4,"s":1},{"t":24.7,"g":-62.0,"s":1},{"t":25.0,"g":-59.5,"s":1},{"t":25.3,"g":-60.8,"s":1},
      {"t":25.6,"g":-63.3,"s":1},{"t":25.9,"g":-61.6,"s":1},{"t":26.2,"g":-58.9,"s":1},{"t":26.5,"g":-60.4,"s":1},{"t":26.8,"g":-62.9,"s":1},
      {"t":27.1,"g":-64.1,"s":1},{"t":27.4,"g":-61.4,"s":1},{"t":27.7,"g":-59.2,"s":1},{"t":28.0,"g":-61.0,"s":1},{"t":28.3,"g":-63.7,"s":1},
      {"t":28.6,"g":-62.3,"s":1},{"t":28.9,"g":-59.8,"s":1},{"t":29.2,"g":-60.5,"s":1},{"t":29.5,"g":-62.6,"s":1},{"t":29.8,"g":-64.6,"s":1},
      {"t":30.1,"g":-61.9,"s":1},{"t":30.4,"g":-59.1,"s":1},{"t":30.7,"g":-60.7,"s":1},{"t":31.0,"g":-62.8,"s":1},{"t":31.3,"g":-63.9,"s":1},
      {"t":31.6,"g":-61.3,"s":1},{"t":31.9,"g":-59.4,"s":1},{"t":32.2,"g":-60.2,"s":1},{"t":32.5,"g":-62.5,"s":1},{"t":32.8,"g":-64.0,"s":1},
      {"t":33.1,"g":-61.6,"s":1},{"t":33.4,"g":-59.0,"s":1},{"t":33.7,"g":-60.3,"s":1},{"t":34.0,"g":-62.7,"s":1},{"t":34.3,"g":-61.5,"s":1},
      {"t":34.6,"g":-59.7,"s":1},{"t":34.9,"g":-61.2,"s":1},{"t":35.2,"g":-63.8,"s":1},{"t":35.5,"g":-62.1,"s":1},{"t":35.8,"g":-59.3,"s":1},
      {"t":36.1,"g":-58.7,"s":1},{"t":36.4,"g":-61.4,"s":1},{"t":36.7,"g":-64.2,"s":1},{"t":37.0,"g":-62.5,"s":1},{"t":37.3,"g":-59.6,"s":1},
      {"t":37.6,"g":-61.0,"s":1},{"t":37.9,"g":-63.5,"s":1},{"t":38.2,"g":-61.8,"s":1},{"t":38.5,"g":-59.1,"s":1},{"t":38.8,"g":-60.9,"s":1},
      {"t":39.1,"g":-63.1,"s":1},{"t":39.4,"g":-61.7,"s":1},{"t":39.7,"g":-61.2,"s":1},{"t":40.0,"g":-61.9,"s":1},{"t":40.3,"g":-62.4,"s":1},
      {"t":40.6,"g":-61.6,"s":1},{"t":40.9,"g":-59.4,"s":1},{"t":41.2,"g":-58.6,"s":1},{"t":41.5,"g":-61.3,"s":1},{"t":41.8,"g":-64.3,"s":1},
      {"t":42.1,"g":-65.2,"s":1},{"t":42.4,"g":-62.0,"s":1},{"t":42.7,"g":-59.5,"s":1},{"t":43.0,"g":-61.1,"s":1},{"t":43.3,"g":-63.9,"s":1},
      {"t":43.6,"g":-62.2,"s":1},{"t":43.9,"g":-60.4,"s":1},{"t":44.2,"g":-58.3,"s":1},{"t":44.5,"g":-61.0,"s":1},{"t":44.8,"g":-64.6,"s":1},
      {"t":45.1,"g":-65.5,"s":1},{"t":45.4,"g":-61.8,"s":1},{"t":45.7,"g":-58.2,"s":1},{"t":46.0,"g":-59.6,"s":1},{"t":46.3,"g":-62.7,"s":1},
      {"t":46.6,"g":-65.0,"s":1},{"t":46.9,"g":-63.4,"s":1},{"t":47.2,"g":-59.5,"s":1},{"t":47.5,"g":-58.9,"s":1},{"t":47.8,"g":-61.6,"s":1},
      {"t":54.2,"g":-62.8,"s":2},{"t":54.5,"g":-61.3,"s":2},{"t":54.8,"g":-58.9,"s":2},{"t":55.1,"g":-60.2,"s":2},{"t":55.4,"g":-61.1,"s":2},
      {"t":55.7,"g":-61.6,"s":2},{"t":56.0,"g":-60.9,"s":2},{"t":56.3,"g":-62.3,"s":2},{"t":56.6,"g":-61.2,"s":2},{"t":56.9,"g":-61.8,"s":2},
      {"t":57.2,"g":-62.5,"s":2},{"t":57.5,"g":-60.4,"s":2},{"t":57.8,"g":-58.6,"s":2},{"t":58.1,"g":-61.7,"s":2},{"t":58.4,"g":-64.2,"s":2},
      {"t":58.7,"g":-59.1,"s":2},{"t":59.0,"g":-58.4,"s":2},{"t":59.3,"g":-62.8,"s":2},{"t":59.6,"g":-64.0,"s":2},{"t":59.9,"g":-60.5,"s":2}
    ]
  },
  "layer": [
    {
      "data": {"name": "noisebar"},
      "mark": {"type": "rule", "color": "#c8c8c8", "strokeWidth": 2.5},
      "encoding": {
        "x": {"field": "t", "type": "quantitative", "scale": {"domain": [-10, 70], "nice": false}, "axis": null},
        "x2": {"field": "t2"},
        "y": {"field": "g", "type": "quantitative", "scale": {"domain": [-100, 100], "nice": false, "zero": false}, "axis": null},
        "y2": {"field": "g2"}
      }
    },
    {
      "data": {"values": [{"t": -7, "g": 0}]},
      "mark": {"type": "point", "filled": true, "color": "black", "size": 55, "opacity": 1},
      "encoding": {
        "x": {"field": "t", "type": "quantitative", "scale": {"domain": [-10, 70], "nice": false}, "axis": null},
        "y": {"field": "g", "type": "quantitative", "scale": {"domain": [-100, 100], "nice": false, "zero": false}, "axis": null}
      }
    },
    {
      "data": {"name": "wave"},
      "mark": {"type": "line", "color": "#c4c4c4", "strokeWidth": 2},
      "encoding": {
        "x": {"field": "t", "type": "quantitative", "scale": {"domain": [-10, 70], "nice": false}, "axis": null},
        "y": {"field": "g", "type": "quantitative", "scale": {"domain": [-100, 100], "nice": false, "zero": false}, "axis": null},
        "detail": {"field": "s", "type": "nominal"}
      }
    },
    {
      "data": {"name": "lastbar"},
      "mark": {"type": "rule", "strokeWidth": 4.5},
      "encoding": {
        "x": {"field": "t", "type": "quantitative", "scale": {"domain": [-10, 70], "nice": false}, "axis": null},
        "x2": {"field": "t2"},
        "y": {"field": "g", "type": "quantitative", "scale": {"domain": [-100, 100], "nice": false, "zero": false}, "axis": null},
        "y2": {"field": "g2"},
        "color": {
          "datum": "... last 10 min.",
          "type": "nominal",
          "scale": {
            "domain": ["Pressure", "dP/dt low-passed", "Residual", "... last 10 min.", "Theor.Tide"],
            "range": ["#0000ff", "#19c6c6", "#000000", "#c0c0c0", "#ff0000"]
          },
          "legend": {
            "orient": "none",
            "legendX": 4,
            "legendY": -91.7,
            "direction": "vertical",
            "title": "MMM",
            "titleOrient": "right",
            "titlePadding": 5,
            "titleFontSize": 24,
            "titleFontWeight": "normal",
            "titleColor": "white",
            "fillColor": "white",
            "strokeColor": "#808080",
            "padding": 9,
            "labelFont": "Liberation Sans",
            "labelFontSize": 24,
            "labelColor": "black",
            "labelLimit": 400,
            "symbolType": "M-2.3625,0L2.3625,0M-0.36,0A0.36,0.36,0,1,1,0.36,0A0.36,0.36,0,1,1,-0.36,0Z",
            "symbolSize": 576,
            "symbolOffset": 45,
            "labelOffset": 32,
            "clipHeight": 26,
            "rowPadding": 4.2,
            "symbolStrokeWidth": 1.2,
            "symbolOpacity": 1
          }
        }
      }
    },
    {
      "data": {"name": "tide"},
      "mark": {"type": "line", "strokeWidth": 4.5},
      "encoding": {
        "x": {"field": "t", "type": "quantitative", "scale": {"domain": [-10, 70], "nice": false}, "axis": null},
        "y": {
          "field": "n", "type": "quantitative",
          "scale": {"domain": [-1500, 4500], "nice": false, "zero": false},
          "axis": {
            "orient": "right",
            "values": [-1500, -1400, -1300, -1200, -1100, -1000, -900, -800, -700, -600, -500, -400, -300, -200, -100, 0, 100, 200, 300, 400, 500, 600, 700, 800, 900, 1000, 1100, 1200, 1300, 1400],
            "labelExpr": "datum.value % 500 === 0 ? '' + datum.value : ''",
            "tickSize": {"condition": {"test": "datum.value % 500 === 0", "value": 10}, "value": 5},
            "labelAlign": "right",
            "labelPadding": 82,
            "title": "Tide [nm/s²]",
            "titleAngle": 270,
            "titleX": 152,
            "titleY": 597,
            "titleAlign": "center",
            "titleBaseline": "alphabetic"
          }
        },
        "detail": {"field": "s", "type": "nominal"},
        "color": {
          "datum": "Theor.Tide", "type": "nominal",
          "scale": {
            "domain": ["Pressure", "dP/dt low-passed", "Residual", "... last 10 min.", "Theor.Tide"],
            "range": ["#0000ff", "#19c6c6", "#000000", "#c0c0c0", "#ff0000"]
          }
        }
      }
    },
    {
      "data": {"name": "envelope"},
      "mark": {"type": "area", "fillOpacity": 0.75},
      "encoding": {
        "x": {"field": "t", "type": "quantitative", "scale": {"domain": [-10, 70], "nice": false}, "axis": null},
        "y": {"field": "lo", "type": "quantitative", "scale": {"domain": [-100, 100], "nice": false, "zero": false}, "axis": null},
        "y2": {"field": "hi"},
        "detail": {"field": "s", "type": "nominal"},
        "color": {
          "datum": "Residual", "type": "nominal",
          "scale": {
            "domain": ["Pressure", "dP/dt low-passed", "Residual", "... last 10 min.", "Theor.Tide"],
            "range": ["#0000ff", "#19c6c6", "#000000", "#c0c0c0", "#ff0000"]
          }
        }
      }
    },
    {
      "data": {"name": "residual"},
      "mark": {"type": "line", "strokeWidth": 1, "color": "black"},
      "encoding": {
        "x": {
          "field": "t", "type": "quantitative", "scale": {"domain": [-10, 70], "nice": false},
          "axis": {
            "orient": "bottom",
            "values": [-10, -9, -8, -7, -6, -5, -4, -3, -2, -1, 0, 1, 2, 3, 4, 5, 6, 7, 8, 9, 10, 11, 12, 13, 14, 15, 16, 17, 18, 19, 20, 21, 22, 23, 24, 25, 26, 27, 28, 29, 30, 31, 32, 33, 34, 35, 36, 37, 38, 39, 40, 41, 42, 43, 44, 45, 46, 47, 48, 49, 50, 51, 52, 53, 54, 55, 56, 57, 58, 59, 60, 61, 62, 63, 64, 65, 66, 67, 68, 69, 70],
            "labelExpr": "datum.value % 10 === 0 ? '' + datum.value : ''",
            "tickSize": {"condition": {"test": "datum.value % 10 === 0", "value": 10}, "value": 6},
            "labelPadding": 11,
            "title": "Time [min] from 2026-07-30 23:01:00 UTC",
            "titleFontSize": 48,
            "titleX": 648,
            "titleY": 104,
            "titleAlign": "center",
            "titleBaseline": "alphabetic"
          }
        },
        "y": {
          "field": "g", "type": "quantitative", "scale": {"domain": [-100, 100], "nice": false, "zero": false},
          "axis": {
            "orient": "left",
            "values": [-100, -90, -80, -70, -60, -50, -40, -30, -20, -10, 0, 10, 20, 30, 40, 50, 60, 70, 80, 90, 100],
            "labelExpr": "datum.value % 20 === 0 ? '' + datum.value : ''",
            "tickSize": {"condition": {"test": "datum.value % 20 === 0", "value": 10}, "value": 5.5},
            "labelPadding": 9,
            "title": "Obs’d Gravity [nm/s²]",
            "titleAngle": 270,
            "titleX": -104,
            "titleY": 398,
            "titleAlign": "center",
            "titleBaseline": "alphabetic"
          }
        },
        "detail": {"field": "s", "type": "nominal"}
      }
    },
    {
      "data": {"name": "smooth"},
      "mark": {"type": "line", "color": "#c8c800", "strokeWidth": 2.2},
      "encoding": {
        "x": {
          "field": "t", "type": "quantitative", "scale": {"domain": [-10, 70], "nice": false},
          "axis": {
            "orient": "top",
            "values": [-10, -9, -8, -7, -6, -5, -4, -3, -2, -1, 0, 1, 2, 3, 4, 5, 6, 7, 8, 9, 10, 11, 12, 13, 14, 15, 16, 17, 18, 19, 20, 21, 22, 23, 24, 25, 26, 27, 28, 29, 30, 31, 32, 33, 34, 35, 36, 37, 38, 39, 40, 41, 42, 43, 44, 45, 46, 47, 48, 49, 50, 51, 52, 53, 54, 55, 56, 57, 58, 59, 60, 61, 62, 63, 64, 65, 66, 67, 68, 69, 70],
            "labels": false,
            "tickSize": {"condition": {"test": "datum.value % 10 === 0", "value": 10}, "value": 5},
            "title": null
          }
        },
        "y": {"field": "g", "type": "quantitative", "scale": {"domain": [-100, 100], "nice": false, "zero": false}, "axis": null},
        "detail": {"field": "s", "type": "nominal"}
      }
    },
    {
      "data": {"name": "pressure"},
      "mark": {"type": "line", "strokeWidth": 5},
      "encoding": {
        "x": {"field": "t", "type": "quantitative", "scale": {"domain": [-10, 70], "nice": false}, "axis": null},
        "y": {
          "field": "p", "type": "quantitative",
          "scale": {"domain": [998, 1014], "nice": false, "zero": false},
          "axis": {
            "orient": "right",
            "values": [1007, 1008, 1009, 1010, 1011, 1012, 1013],
            "labelExpr": "datum.value % 2 === 0 ? '' + datum.value : ''",
            "tickSize": {"condition": {"test": "datum.value % 2 === 0", "value": 10}, "value": 5},
            "labelPadding": 11,
            "title": "Pressure [hPa]",
            "titleAngle": 270,
            "titleX": 141,
            "titleY": 201,
            "titleAlign": "center",
            "titleBaseline": "alphabetic"
          }
        },
        "detail": {"field": "s", "type": "nominal"},
        "color": {
          "datum": "Pressure", "type": "nominal",
          "scale": {
            "domain": ["Pressure", "dP/dt low-passed", "Residual", "... last 10 min.", "Theor.Tide"],
            "range": ["#0000ff", "#19c6c6", "#000000", "#c0c0c0", "#ff0000"]
          }
        }
      }
    },
    {
      "data": {"name": "cyanframe"},
      "mark": {"type": "rule", "color": "#66c2bc", "strokeWidth": 2},
      "encoding": {
        "x": {"field": "t", "type": "quantitative", "scale": {"domain": [-10, 70], "nice": false}, "axis": null},
        "x2": {"field": "t2"},
        "y": {
          "field": "v", "type": "quantitative",
          "scale": {"domain": [-7.0617, 2.9383], "nice": false, "zero": false},
          "axis": {
            "orient": "right",
            "offset": -113.3,
            "values": [-1.5617, -1.0617, -0.5617, -0.0617, 0.4383, 0.9383, 1.4383, 1.9383, 2.4383],
            "labels": false,
            "domain": false,
            "tickSize": 8,
            "tickColor": "#66c2bc",
            "tickWidth": 2,
            "title": null
          }
        },
        "y2": {"field": "v2"}
      }
    },
    {
      "data": {"name": "dpdt"},
      "mark": {"type": "line", "strokeWidth": 2.5},
      "encoding": {
        "x": {"field": "t", "type": "quantitative", "scale": {"domain": [-10, 70], "nice": false}, "axis": null},
        "y": {"field": "v", "type": "quantitative", "scale": {"domain": [-7.0617, 2.9383], "nice": false, "zero": false}, "axis": null},
        "detail": {"field": "s", "type": "nominal"},
        "color": {
          "datum": "dP/dt low-passed", "type": "nominal",
          "scale": {
            "domain": ["Pressure", "dP/dt low-passed", "Residual", "... last 10 min.", "Theor.Tide"],
            "range": ["#0000ff", "#19c6c6", "#000000", "#c0c0c0", "#ff0000"]
          }
        }
      }
    },
    {
      "data": {"values": [{}]},
      "mark": {"type": "text", "text": "SCG_054 gravimeter Onsala Space Observatory, Sweden", "align": "right", "baseline": "alphabetic", "fontSize": 32.3, "fontWeight": "bold", "font": "Liberation Sans", "color": "black"},
      "encoding": {
        "x": {"datum": 68.35, "type": "quantitative", "scale": {"domain": [-10, 70], "nice": false}, "axis": null},
        "y": {"datum": 107.0, "type": "quantitative", "scale": {"domain": [-100, 100], "nice": false, "zero": false}, "axis": null}
      }
    },
    {
      "data": {"values": [{}]},
      "mark": {"type": "text", "text": "The latest 1-hour, 1-second sampling", "align": "left", "baseline": "alphabetic", "fontSize": 28, "fontWeight": "bold", "font": "Liberation Sans", "color": "black"},
      "encoding": {
        "x": {"datum": -8.2, "type": "quantitative", "scale": {"domain": [-10, 70], "nice": false}, "axis": null},
        "y": {"datum": -96.5, "type": "quantitative", "scale": {"domain": [-100, 100], "nice": false, "zero": false}, "axis": null}
      }
    },
    {
      "data": {"values": [{}]},
      "mark": {"type": "text", "text": "End at 2026-07-31 00:00:59 UTC", "align": "right", "baseline": "alphabetic", "fontSize": 28, "fontWeight": "bold", "font": "Liberation Sans", "color": "black"},
      "encoding": {
        "x": {"datum": 68.2, "type": "quantitative", "scale": {"domain": [-10, 70], "nice": false}, "axis": null},
        "y": {"datum": -96.5, "type": "quantitative", "scale": {"domain": [-100, 100], "nice": false, "zero": false}, "axis": null}
      }
    },
    {
      "data": {"values": [{}]},
      "mark": {"type": "text", "text": "Typical noise level", "angle": 270, "align": "center", "baseline": "middle", "fontSize": 22, "font": "Liberation Sans", "color": "black"},
      "encoding": {
        "x": {"datum": -5.43, "type": "quantitative", "scale": {"domain": [-10, 70], "nice": false}, "axis": null},
        "y": {"datum": 0, "type": "quantitative", "scale": {"domain": [-100, 100], "nice": false, "zero": false}, "axis": null}
      }
    },
    {
      "data": {"values": [{}]},
      "mark": {"type": "text", "text": "1 DIV = 0.5 hPa/h", "angle": 270, "align": "center", "baseline": "middle", "fontSize": 22.5, "font": "Liberation Sans", "color": "black"},
      "encoding": {
        "x": {"datum": 65.06, "type": "quantitative", "scale": {"domain": [-10, 70], "nice": false}, "axis": null},
        "y": {"datum": 50, "type": "quantitative", "scale": {"domain": [-100, 100], "nice": false, "zero": false}, "axis": null}
      }
    },
    {
      "data": {"values": [{}]},
      "mark": {"type": "text", "text": "average = 0.4383", "angle": 270, "align": "center", "baseline": "middle", "fontSize": 22.5, "font": "Liberation Sans", "color": "black"},
      "encoding": {
        "x": {"datum": 67.53, "type": "quantitative", "scale": {"domain": [-10, 70], "nice": false}, "axis": null},
        "y": {"datum": 49.5, "type": "quantitative", "scale": {"domain": [-100, 100], "nice": false, "zero": false}, "axis": null}
      }
    }
  ],
  "resolve": {
    "scale": {"y": "independent"},
    "axis": {"x": "independent", "y": "independent"}
  },
  "config": {
    "view": {"stroke": null},
    "font": "Liberation Sans",
    "axis": {
      "labelFont": "Liberation Sans",
      "titleFont": "Liberation Sans",
      "labelFontSize": 27,
      "titleFontSize": 47,
      "titleFontWeight": "normal",
      "labelColor": "black",
      "titleColor": "black",
      "tickColor": "black",
      "tickWidth": 1.8,
      "domainColor": "black",
      "domainWidth": 2.5,
      "domainCap": "square",
      "grid": false,
      "labelFlush": false,
      "labelOverlap": false
    }
  }
}
